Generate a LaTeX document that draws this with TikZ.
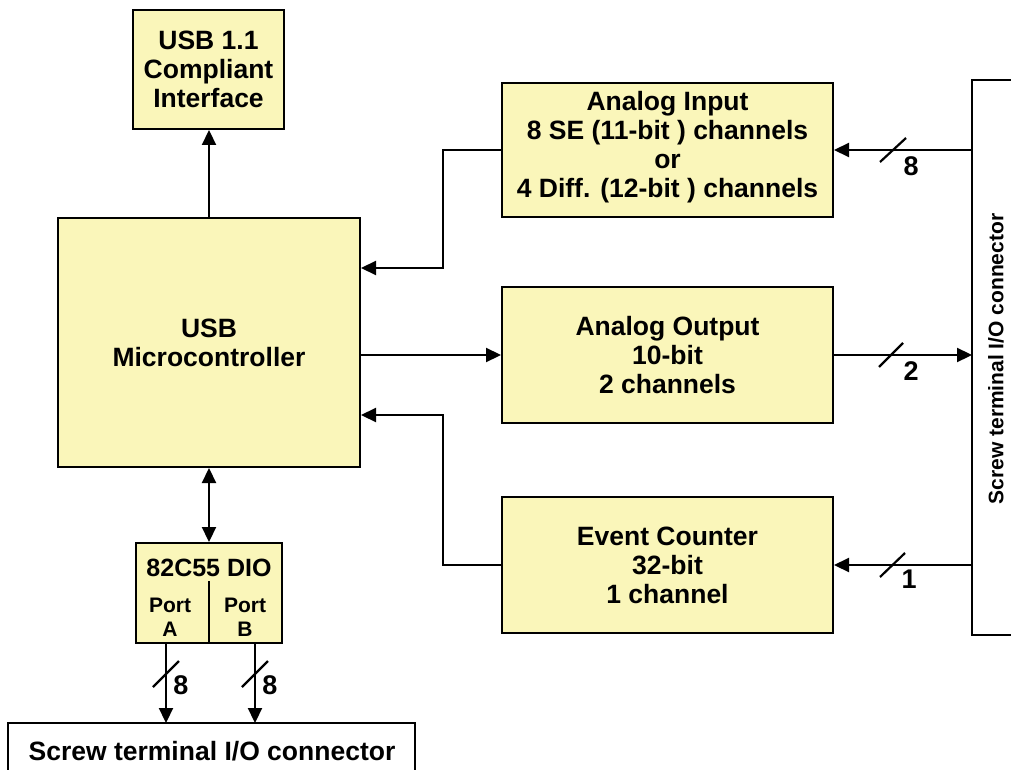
\documentclass[tikz,border=0pt]{standalone}
\usepackage{fontspec}
\setmainfont{Liberation Sans}
\usetikzlibrary{arrows.meta,calc}
\definecolor{boxfill}{RGB}{250,246,186}
\begin{document}
\begin{tikzpicture}[x=1pt,y=-1pt,
  box/.style={draw=black, line width=2pt, fill=boxfill, align=center, inner sep=0pt,
    font=\fontsize{26.5}{29}\selectfont\bfseries},
  conn/.style={line width=2.2pt, -{Triangle[length=15pt,width=14pt]}},
  biconn/.style={line width=2.2pt, {Triangle[length=15pt,width=14pt]}-{Triangle[length=15pt,width=14pt]}},
  plain/.style={line width=2.2pt},
  slash/.style={line width=2.2pt},
  lbl/.style={font=\fontsize{27}{30}\selectfont\bfseries, inner sep=0pt},
]
\useasboundingbox (0,0) rectangle (1011,770);

% boxes
\node[box, minimum width=151pt, minimum height=119pt] (usb) at (208.5,69.5)
  {USB 1.1\\Compliant\\Interface};
\node[box, minimum width=302pt, minimum height=249pt] (micro) at (209,342.5)
  {USB\\Microcontroller};
\node[box, minimum width=331pt, minimum height=133pt] (ain) at (667.5,150)
  {Analog Input\\8 SE (11-bit ) channels\\or\\4 Diff. (12-bit ) channels\vspace*{5pt}};
\node[box, minimum width=331pt, minimum height=136pt] (aout) at (667.5,355)
  {Analog Output\\10-bit\\2 channels};
\node[box, minimum width=331pt, minimum height=136pt] (evt) at (667.5,565)
  {Event Counter\\32-bit\\1 channel};
\node[box, minimum width=146pt, minimum height=100pt] (dio) at (209,593) {};
\node[font=\fontsize{25}{28}\selectfont\bfseries, inner sep=0pt] (diot) at (209,568) {82C55 DIO};
\node[font=\fontsize{21}{24}\selectfont\bfseries, align=center, inner sep=0pt] (porta) at (170,617) {Port\\A};
\node[font=\fontsize{21}{24}\selectfont\bfseries, align=center, inner sep=0pt] (portb) at (245,617) {Port\\B};
\draw[plain] (209,581) -- (dio.south);

% right screw terminal (open to the right)
\draw[plain] (1015,80) -- (972,80) -- (972,635) -- (1015,635);
\node[rotate=90, font=\fontsize{21}{24}\selectfont\bfseries, inner sep=0pt] (scrRt) at (996,359)
  {Screw terminal I/O connector};
\coordinate (rA) at (972,150);
\coordinate (rB) at (972,355);
\coordinate (rC) at (972,565);

% bottom screw terminal (open at the bottom)
\draw[plain] (8,775) -- (8,723) -- (415,723) -- (415,775);
\node[font=\fontsize{26.5}{29}\selectfont\bfseries, inner sep=0pt] (scrBt) at (212,751)
  {Screw terminal I/O connector};
\coordinate (bA) at (166,723);
\coordinate (bB) at (255,723);
\coordinate (pA) at (166,643);
\coordinate (pB) at (255,643);

% connectors
\draw[conn] (micro.north) -- (micro.north |- usb.south);
\coordinate (j1) at (443,268);
\coordinate (j2) at (443,415);
\draw[conn] (ain.west) -| (j1) -- (j1 -| micro.east);
\draw[conn] (micro.east |- aout.west) -- (aout.west);
\draw[conn] (evt.west) -| (j2) -- (j2 -| micro.east);
\draw[biconn] (micro.south) -- (dio.north);
\draw[conn] (rA) -- (ain.east);
\draw[conn] (aout.east) -- (rB);
\draw[conn] (rC) -- (evt.east);
\draw[conn] (pA) -- (bA);
\draw[conn] (pB) -- (bB);

% bus slashes and widths
\draw[slash] (880,162) -- (906,138);
\node[lbl] (n8) at (911,166) {8};
\draw[slash] (879,367) -- (903,343);
\node[lbl] (n2) at (911,371) {2};
\draw[slash] (880,577) -- (905,553);
\node[lbl] (n1) at (909,579) {1};
\draw[slash] (153,687) -- (179,661);
\node[lbl] (n8a) at (181,685) {8};
\draw[slash] (242,687) -- (268,661);
\node[lbl] (n8b) at (270,685) {8};
\end{tikzpicture}
\end{document}
